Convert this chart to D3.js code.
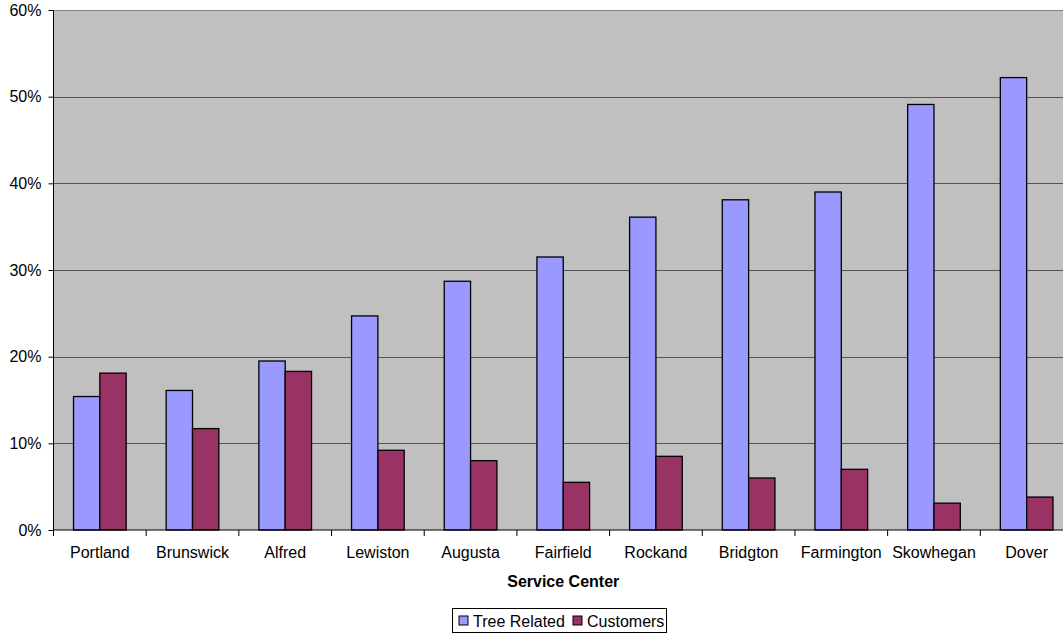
<!DOCTYPE html>
<html>
<head>
<meta charset="utf-8">
<script src="https://cdn.jsdelivr.net/npm/d3@7"></script>
<style>
  html, body { margin: 0; padding: 0; background: #ffffff; }
  svg { display: block; font-family: "Liberation Sans", Arial, sans-serif; }
</style>
</head>
<body>
<svg id="chart" width="1063" height="635"></svg>
<script>
// Share of outages by service center
const centers = ["Portland", "Brunswick", "Alfred", "Lewiston", "Augusta", "Fairfield",
                 "Rockand", "Bridgton", "Farmington", "Skowhegan", "Dover"];
const treeRelated = [0.154, 0.161, 0.195, 0.247, 0.287, 0.315, 0.361, 0.381, 0.390, 0.491, 0.522];
const customers   = [0.181, 0.117, 0.183, 0.092, 0.080, 0.055, 0.085, 0.060, 0.070, 0.031, 0.038];
const seriesNames = ["Tree Related", "Customers"];
const seriesColors = ["#9999FF", "#993366"];
const yTicks = [0, 0.1, 0.2, 0.3, 0.4, 0.5, 0.6];

const FONT = "'Liberation Sans', Arial, sans-serif";
const svg = d3.select("#chart");
const plot = { left: 53.5, right: 1073, top: 10, bottom: 530 };

const x = d3.scaleBand().domain(centers).range([plot.left, plot.right])
  .paddingInner(0).paddingOuter(0);
const inner = d3.scaleBand().domain(seriesNames)
  .range([0, x.bandwidth()]).paddingOuter(0.76).paddingInner(0);
const y = d3.scaleLinear().domain([0, 0.6]).range([plot.bottom, plot.top]);

// plot background
svg.append("rect")
  .attr("x", plot.left).attr("y", plot.top)
  .attr("width", plot.right - plot.left).attr("height", plot.bottom - plot.top)
  .attr("fill", "#C0C0C0");

// horizontal gridlines
svg.append("g").selectAll("line").data(yTicks.filter(d => d > 0)).join("line")
  .attr("x1", plot.left).attr("x2", plot.right)
  .attr("y1", d => Math.round(y(d)) + 0.5).attr("y2", d => Math.round(y(d)) + 0.5)
  .attr("stroke", d => d === 0.6 ? "#808080" : "#555555").attr("stroke-width", 1);

// bars
const series = [treeRelated, customers];
const groups = svg.append("g").selectAll("g").data(centers).join("g")
  .attr("transform", d => `translate(${x(d)},0)`);
groups.selectAll("rect")
  .data((c, i) => series.map((s, k) => ({ key: seriesNames[k], value: s[i], color: seriesColors[k] })))
  .join("rect")
  .attr("x", d => inner(d.key))
  .attr("y", d => y(d.value))
  .attr("width", inner.bandwidth())
  .attr("height", d => y(0) - y(d.value))
  .attr("fill", d => d.color)
  .attr("stroke", "#000").attr("stroke-width", 1.3);

// y axis
const yAxis = d3.axisLeft(y).tickValues(yTicks).tickFormat(d3.format(".0%"))
  .tickSize(5).tickPadding(7);
const gy = svg.append("g").attr("transform", `translate(${plot.left},0)`).call(yAxis);
gy.select(".domain").attr("stroke", "#000").attr("d", `M0,${plot.top}V${plot.bottom}`);
gy.selectAll(".tick line").attr("stroke", "#000");
gy.selectAll("text").attr("font-size", 16).attr("fill", "#000").attr("font-family", FONT);

// x axis
const xAxis = d3.axisBottom(x).tickSize(0).tickPadding(17);
const gx = svg.append("g").attr("transform", `translate(0,${plot.bottom})`).call(xAxis);
gx.select(".domain").attr("stroke", "#000").attr("d", `M${plot.left},0H${plot.right}`);
gx.selectAll("text").attr("font-size", 16).attr("fill", "#000").attr("font-family", FONT);
// category separators
svg.append("g").selectAll("line").data(centers).join("line")
  .attr("x1", d => x(d)).attr("x2", d => x(d))
  .attr("y1", plot.bottom).attr("y2", plot.bottom + 6)
  .attr("stroke", "#000");

// axis title
svg.append("text")
  .attr("x", (plot.left + plot.right) / 2).attr("y", 587)
  .attr("text-anchor", "middle").attr("font-size", 16).attr("font-weight", "bold")
  .attr("font-family", FONT)
  .text("Service Center");

// legend
const legend = svg.append("g").attr("transform", "translate(452.5,608.5)");
legend.append("rect").attr("width", 214).attr("height", 24)
  .attr("fill", "#fff").attr("stroke", "#000");
const items = [{ name: seriesNames[0], x: 6.5 }, { name: seriesNames[1], x: 120.5 }];
items.forEach((it, k) => {
  legend.append("rect").attr("x", it.x).attr("y", 7.5).attr("width", 9).attr("height", 9)
    .attr("fill", seriesColors[k]).attr("stroke", "#000");
  legend.append("text").attr("x", it.x + 14).attr("y", 18)
    .attr("font-size", 16).attr("font-family", FONT).text(it.name);
});
</script>
</body>
</html>
